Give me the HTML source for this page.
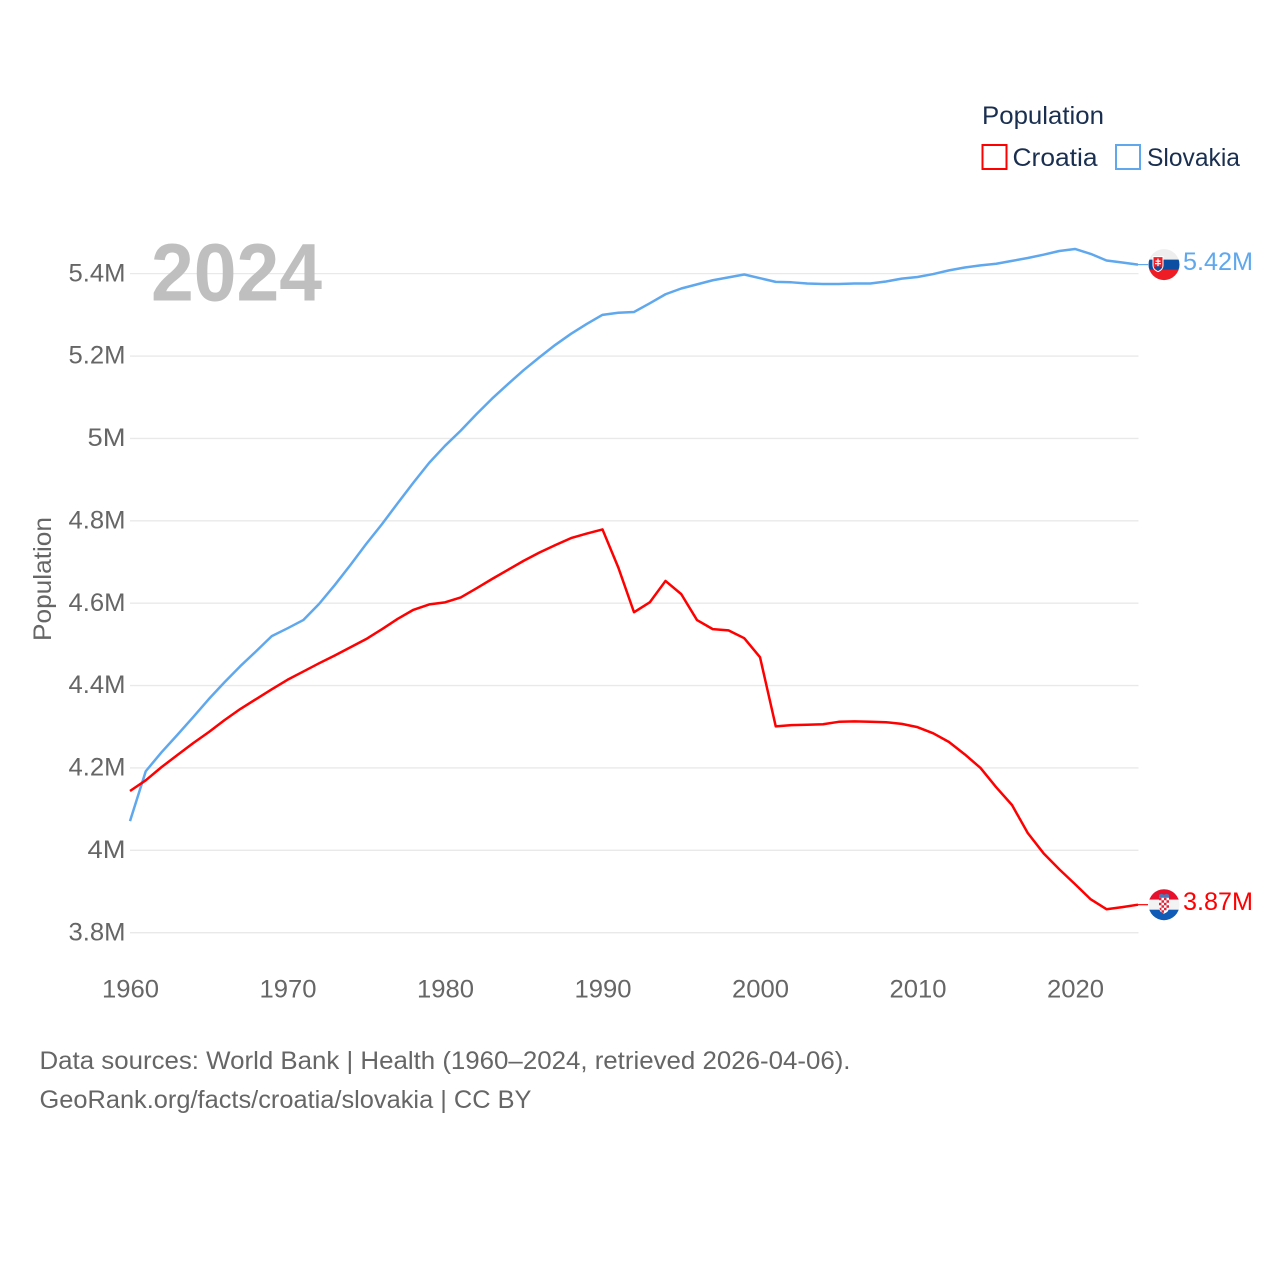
<!DOCTYPE html>
<html lang="en">
<head>
<meta charset="utf-8">
<title>Population: Croatia and Slovakia</title>
<style>
html,body{margin:0;padding:0;background:#fff;width:1280px;height:1280px;overflow:hidden}
svg{display:block}
text{font-family:"Liberation Sans",sans-serif}
</style>
</head>
<body>
<svg id="chart" xmlns="http://www.w3.org/2000/svg" width="1280" height="1280" viewBox="0 0 1280 1280">
  <defs>
    <clipPath id="flag-clip"><circle cx="0" cy="0" r="15.5"/></clipPath>
  </defs>
  <rect x="0" y="0" width="1280" height="1280" fill="#fff"/>
  <g id="grid"></g>
  <g id="y-ticks"></g>
  <g id="x-ticks"></g>
  <text x="151" y="300.5" font-size="82" font-weight="700" fill="#bfbfbf" textLength="171" lengthAdjust="spacingAndGlyphs">2024</text>
  <text transform="translate(51,641) rotate(-90)" font-size="25" fill="#666" textLength="124" lengthAdjust="spacingAndGlyphs">Population</text>
  <g id="series"></g>

  <g id="flag-slovakia">
    <g clip-path="url(#flag-clip)">
      <rect x="-16" y="-16" width="32" height="11" fill="#eeeeee"/>
      <rect x="-16" y="-5" width="32" height="11" fill="#0b4ea2"/>
      <rect x="-16" y="5" width="32" height="11" fill="#ee1c25"/>
    </g>
    <path d="M-11 -8 H-1 V1 Q-1 5 -6 7 Q-11 5 -11 1 Z" fill="#ee1c25" stroke="#fff" stroke-width="1"/>
    <path d="M-6 -6 V3 M-8.5 -3.5 H-3.5 M-9 -1 H-3" stroke="#fff" stroke-width="1.2" fill="none"/>
    <path d="M-10 3 Q-6 0 -2 3 L-6 6.5 Z" fill="#0b4ea2"/>
  </g>
  <g id="flag-croatia">
    <g clip-path="url(#flag-clip)">
      <rect x="-16" y="-16" width="32" height="11" fill="#e8112d"/>
      <rect x="-16" y="-5" width="32" height="11" fill="#f3f3f3"/>
      <rect x="-16" y="5" width="32" height="11" fill="#0f5bb5"/>
    </g>
    <path d="M-5 -10 L-2.5 -11 L0 -10 L2.5 -11 L5 -10 V-7 H-5 Z" fill="#4a78b8"/>
    <path d="M-5 -7 H5 V3 Q5 7 0 9 Q-5 7 -5 3 Z" fill="#fff"/>
    <path d="M-5 -7 H-2.5 V-4.5 H-5 Z M0 -7 H2.5 V-4.5 H0 Z M-2.5 -4.5 H0 V-2 H-2.5 Z M2.5 -4.5 H5 V-2 H2.5 Z M-5 -2 H-2.5 V0.5 H-5 Z M0 -2 H2.5 V0.5 H0 Z M-2.5 0.5 H0 V3 H-2.5 Z M2.5 0.5 H5 V3 H2.5 Z M-4.5 3 H-2.5 V5.5 H-4 Z M0 3 H2.5 V5.5 H0 Z M-2.5 5.5 H0 V8 H-2.5 Z" fill="#d8263c"/>
  </g>
  <text id="value-slovakia" x="1183" font-size="25" fill="#5fa8ee" textLength="70" lengthAdjust="spacingAndGlyphs"></text>
  <text id="value-croatia" x="1183" font-size="25" fill="#ff0000" textLength="70" lengthAdjust="spacingAndGlyphs"></text>

  <g>
    <text x="982" y="124" font-size="25" fill="#1a2f50" textLength="122" lengthAdjust="spacingAndGlyphs">Population</text>
    <g>
      <rect x="982.5" y="145" width="24" height="24" fill="none" stroke="#ff0000" stroke-width="2"/>
      <text x="1012.5" y="166" font-size="25" fill="#1a2f50" textLength="85" lengthAdjust="spacingAndGlyphs">Croatia</text>
    </g>
    <g>
      <rect x="1116" y="145" width="24" height="24" fill="none" stroke="#5fa8ee" stroke-width="2"/>
      <text x="1147" y="166" font-size="25" fill="#1a2f50" textLength="93" lengthAdjust="spacingAndGlyphs">Slovakia</text>
    </g>
  </g>

  <text x="39.5" y="1069" font-size="25" fill="#666" textLength="811" lengthAdjust="spacingAndGlyphs">Data sources: World Bank | Health (1960–2024, retrieved 2026-04-06).</text>
  <text x="39.5" y="1108" font-size="25" fill="#666" textLength="492" lengthAdjust="spacingAndGlyphs">GeoRank.org/facts/croatia/slovakia | CC BY</text>
</svg>
<script>
const startYear = 1960;
const yTickValues = [3.8, 4, 4.2, 4.4, 4.6, 4.8, 5, 5.2, 5.4];
const yTickLabels = ["3.8M", "4M", "4.2M", "4.4M", "4.6M", "4.8M", "5M", "5.2M", "5.4M"];
const xTickValues = [1960, 1970, 1980, 1990, 2000, 2010, 2020];
const croatiaValues = [
  4.144, 4.170, 4.202, 4.231, 4.260, 4.287, 4.316, 4.343, 4.367, 4.391,
  4.414, 4.434, 4.454, 4.473, 4.493, 4.513, 4.537, 4.562, 4.584, 4.597,
  4.602, 4.614, 4.636, 4.659, 4.681, 4.703, 4.723, 4.741, 4.758, 4.769,
  4.779, 4.687, 4.578, 4.602, 4.654, 4.622, 4.559, 4.537, 4.534, 4.515,
  4.469, 4.301, 4.304, 4.305, 4.306, 4.312, 4.313, 4.312, 4.311, 4.307,
  4.299, 4.284, 4.263, 4.233, 4.200, 4.153, 4.110, 4.042, 3.993, 3.954,
  3.918, 3.881, 3.857, 3.862, 3.868
];
const slovakiaValues = [
  4.071, 4.192, 4.238, 4.280, 4.323, 4.367, 4.408, 4.447, 4.483, 4.520,
  4.539, 4.559, 4.598, 4.644, 4.693, 4.744, 4.792, 4.843, 4.893, 4.941,
  4.982, 5.019, 5.059, 5.097, 5.132, 5.166, 5.197, 5.227, 5.254, 5.278,
  5.300, 5.305, 5.307, 5.328, 5.350, 5.364, 5.374, 5.384, 5.391, 5.398,
  5.389, 5.380, 5.379, 5.376, 5.375, 5.375, 5.376, 5.376, 5.381, 5.388,
  5.392, 5.399, 5.408, 5.415, 5.420, 5.424, 5.431, 5.438, 5.446, 5.455,
  5.460, 5.448, 5.432, 5.427, 5.422
];

const NS = 'http://www.w3.org/2000/svg';
const xScale = function (year) { return 130 + (year - 1960) * 15.75; };
const yScale = function (v) { return 932.7 - (v - 3.8) * 411.9; };
const tickWidth = function (s) { return s.length === 2 ? 38 : 57; };
const gridLayer = document.getElementById('grid');
const yTickLayer = document.getElementById('y-ticks');
const xTickLayer = document.getElementById('x-ticks');
const seriesLayer = document.getElementById('series');

yTickValues.forEach(function (v, i) {
  const y = yScale(v);
  const line = document.createElementNS(NS, 'line');
  
  
  line.setAttribute('x1', 130);
  line.setAttribute('x2', 1138.5);
  line.setAttribute('y1', y);
  line.setAttribute('y2', y);
  line.setAttribute('stroke', '#e9e9e9');
  line.setAttribute('stroke-width', 1.3);
  gridLayer.appendChild(line);

  const label = document.createElementNS(NS, 'text');
  
  
  const w = tickWidth(yTickLabels[i]);
  label.setAttribute('x', 125.5 - w);
  label.setAttribute('y', y + 7.6);
  label.setAttribute('font-size', 25);
  label.setAttribute('fill', '#666');
  label.setAttribute('textLength', w);
  label.setAttribute('lengthAdjust', 'spacingAndGlyphs');
  label.textContent = yTickLabels[i];
  yTickLayer.appendChild(label);
});

xTickValues.forEach(function (year) {
  const label = document.createElementNS(NS, 'text');
  
  
  label.setAttribute('x', xScale(year) - 28);
  label.setAttribute('y', 997.5);
  label.setAttribute('font-size', 25);
  label.setAttribute('fill', '#666');
  label.setAttribute('textLength', 57);
  label.setAttribute('lengthAdjust', 'spacingAndGlyphs');
  label.textContent = String(year);
  xTickLayer.appendChild(label);
});

function drawSeries(values, color, seriesName) {
  const pts = values.map(function (v, i) {
    return xScale(startYear + i).toFixed(2) + ',' + yScale(v).toFixed(2);
  });
  const path = document.createElementNS(NS, 'polyline');
  
  
  path.setAttribute('points', pts.join(' '));
  path.setAttribute('fill', 'none');
  path.setAttribute('stroke', color);
  path.setAttribute('stroke-width', 2.5);
  path.setAttribute('stroke-linejoin', 'round');
  seriesLayer.appendChild(path);

  const lastV = values[values.length - 1];
  const lastX = xScale(startYear + values.length - 1);
  const lastY = yScale(lastV);
  const stub = document.createElementNS(NS, 'line');
  
  
  stub.setAttribute('x1', lastX);
  stub.setAttribute('x2', 1148);
  stub.setAttribute('y1', lastY);
  stub.setAttribute('y2', lastY);
  stub.setAttribute('stroke', color);
  stub.setAttribute('stroke-width', 1.2);
  seriesLayer.appendChild(stub);

  document.getElementById('flag-' + seriesName).setAttribute('transform', 'translate(1164,' + lastY.toFixed(2) + ')');
  const valueLabel = document.getElementById('value-' + seriesName);
  valueLabel.setAttribute('y', (lastY + 5.4).toFixed(2));
  valueLabel.textContent = lastV.toFixed(2) + 'M';
}

drawSeries(slovakiaValues, '#5fa8ee', 'slovakia');
drawSeries(croatiaValues, '#ff0000', 'croatia');
</script>
</body>
</html>
